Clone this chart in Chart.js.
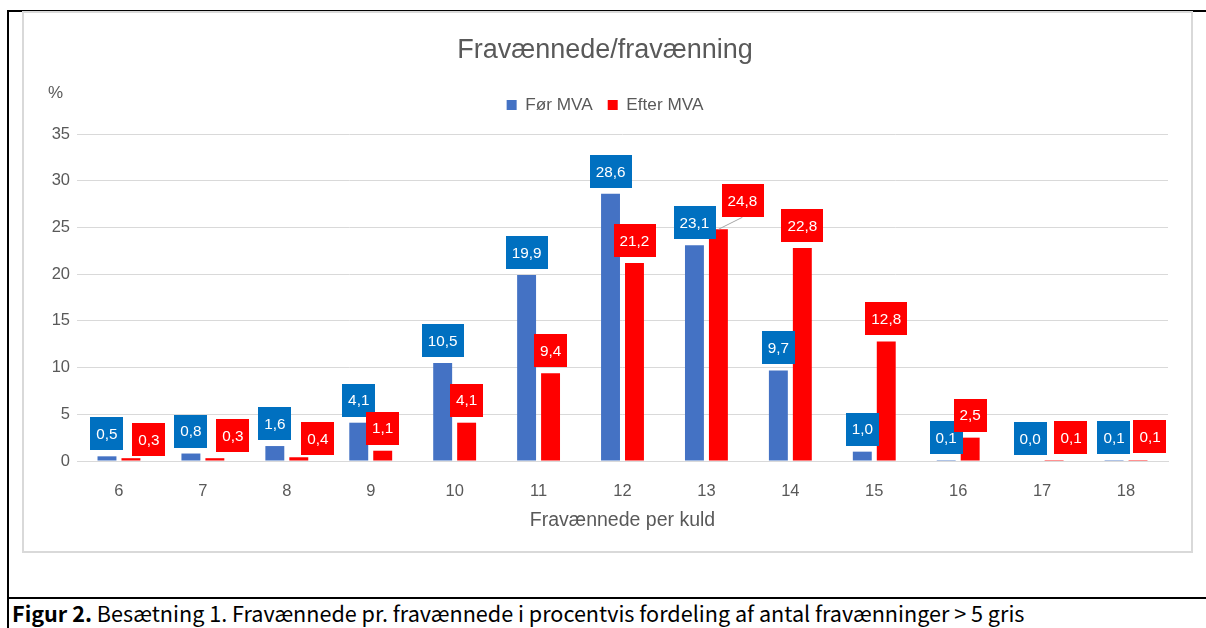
<!DOCTYPE html>
<html>
<head>
<meta charset="utf-8">
<script src="https://cdn.jsdelivr.net/npm/chart.js@4.4.1/dist/chart.umd.min.js"></script>
<style>
  html, body { margin: 0; padding: 0; background: #ffffff; }
  body { width: 1206px; height: 628px; position: relative; overflow: hidden; }
  .line { position: absolute; background: #000; }
  #frame { position: absolute; left: 22px; top: 11px; width: 1167px; height: 538px; border: 2px solid #d9d9d9; }
  #wrap { position: absolute; left: 24px; top: 13px; width: 1167px; height: 538px; }
  #caption { position: absolute; left: 12px; top: 600px; font-family: "Noto Sans CJK JP", "Noto Sans", sans-serif; font-size: 21.6px; line-height: 26px; color: #000; white-space: nowrap; }
  #caption b { font-weight: 700; }
</style>
</head>
<body>
<div class="line" style="left:7px; top:10px; width:1199px; height:2px;"></div>
<div class="line" style="left:7px; top:10px; width:2px; height:618px;"></div>
<div class="line" style="left:7px; top:597px; width:1199px; height:2px;"></div>
<div id="frame"></div>
<div id="wrap"><canvas id="c" width="1167" height="538"></canvas></div>
<div id="caption"><b>Figur 2.</b> Besætning 1. Fravænnede pr. fravænnede i procentvis fordeling af antal fravænninger &gt; 5 gris</div>
<script>
// ---- data ----
const categories = ['6','7','8','9','10','11','12','13','14','15','16','17','18'];
const forMVA   = [0.5, 0.8, 1.6, 4.1, 10.5, 19.9, 28.6, 23.1, 9.7, 1.0, 0.1, 0.0, 0.1];
const efterMVA = [0.3, 0.3, 0.4, 1.1, 4.1, 9.4, 21.2, 24.8, 22.8, 12.8, 2.5, 0.1, 0.1];
const seriesNames = ['Før MVA', 'Efter MVA'];
const yTicks = [0, 5, 10, 15, 20, 25, 30, 35];

// label nudges (pixels) for labels moved aside in the original
const forLabelDx   = [0,0,0,0,0,0,0,0,0,0,0,0,0];
const forLabelDy   = [0,0,0,0,0,0,0,0,0,0,0,0,0];
const efterLabelDx = [18,18,19,0,0,0,0,24,0,0,0,17,12];
const efterLabelDy = [4,0,4,0,0,0,0,-6,0,0,0,0,-1];

const FONT = '"Liberation Sans", Arial, sans-serif';
const GREY = '#595959';

const labelPlugin = {
  id: 'boxLabels',
  afterDatasetsDraw(chart) {
    const ctx = chart.ctx;
    const boxColors = ['#0070C0', '#FF0000'];
    const dxs = [forLabelDx, efterLabelDx];
    const dys = [forLabelDy, efterLabelDy];
    ctx.save();
    ctx.font = '15.3px ' + FONT;
    ctx.textAlign = 'center';
    ctx.textBaseline = 'middle';
    chart.data.datasets.forEach((ds, di) => {
      const meta = chart.getDatasetMeta(di);
      meta.data.forEach((bar, i) => {
        const txt = ds.data[i].toFixed(1).replace('.', ',');
        const w = ctx.measureText(txt).width + 12;
        const h = 33;
        const dx = dxs[di][i], dy = dys[di][i];
        const cx = bar.x + dx;
        const bottom = bar.y - 6 + dy;
        const top = bottom - h;
        if (Math.abs(dx) > 20) {
          ctx.strokeStyle = '#a6a6a6';
          ctx.lineWidth = 1;
          ctx.beginPath();
          ctx.moveTo(bar.x, bar.y);
          ctx.lineTo(cx, bottom);
          ctx.stroke();
        }
        ctx.fillStyle = boxColors[di];
        ctx.fillRect(Math.round(cx - w / 2), Math.round(top), Math.round(w), h);
        ctx.fillStyle = '#ffffff';
        ctx.fillText(txt, cx, top + h / 2 + 1);
      });
    });
    ctx.fillStyle = GREY;
    ctx.font = '17px ' + FONT;
    ctx.fillText('%', 31.5, 80);
    ctx.restore();
  }
};

new Chart(document.getElementById('c'), {
  type: 'bar',
  data: {
    labels: categories,
    datasets: [
      { label: seriesNames[0], data: forMVA, backgroundColor: '#4472C4', categoryPercentage: 0.571, barPercentage: 0.79 },
      { label: seriesNames[1], data: efterMVA, backgroundColor: '#FF0000', categoryPercentage: 0.571, barPercentage: 0.79 }
    ]
  },
  options: {
    responsive: false,
    animation: false,
    events: [],
    layout: { padding: { left: 18, right: 23, top: 0, bottom: 0 } },
    plugins: {
      title: {
        display: true, text: 'Fravænnede/fravænning', color: GREY,
        font: { family: FONT, size: 27, weight: 'normal' },
        padding: { top: 21.4, bottom: 14.6 }
      },
      legend: {
        display: true, position: 'top',
        labels: { color: GREY, font: { family: FONT, size: 17.2 }, boxWidth: 10, boxHeight: 10, padding: 15 }
      },
      subtitle: {
        display: true, text: '', weight: 500, padding: 0,
        font: { family: FONT, size: 8.67 }
      },
      tooltip: { enabled: false }
    },
    scales: {
      x: {
        grid: { display: false, drawTicks: false },
        border: { display: true, color: '#d9d9d9' },
        ticks: { color: GREY, font: { family: FONT, size: 16.5 }, padding: 21 },
        title: { display: true, text: 'Fravænnede per kuld', color: GREY, font: { family: FONT, size: 19.5 }, padding: { top: 0, bottom: 18.3 } },
        afterFit(s) { s.height = 90; }
      },
      y: {
        min: 0, max: 35,
        afterBuildTicks(s) { s.ticks = yTicks.map(v => ({ value: v })); },
        grid: { color: '#d9d9d9', drawTicks: false },
        border: { display: false },
        ticks: { color: GREY, font: { family: FONT, size: 16.5 }, padding: 7 },
        afterFit(s) { s.width = 35; }
      }
    }
  },
  plugins: [labelPlugin]
});
</script>
</body>
</html>
